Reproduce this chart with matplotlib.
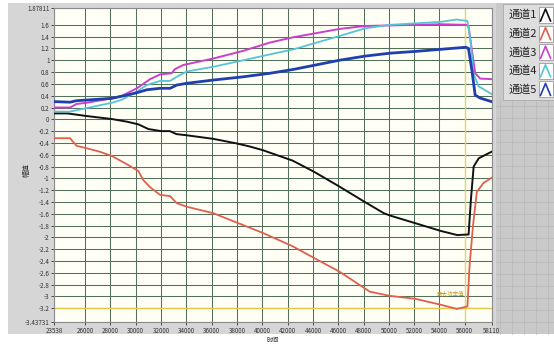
import matplotlib
matplotlib.use('Agg')
import matplotlib.pyplot as plt
from matplotlib.patches import Rectangle
from matplotlib.lines import Line2D

plt.rcParams['font.family'] = ['Noto Sans CJK SC', 'DejaVu Sans']

# ---- data ----
ch1_x = [23538, 24600, 26100, 28100, 29300, 30200, 31000, 32000, 32700, 33200, 34000,
         36100, 38000, 39000, 40000, 42400, 44100, 46100, 48100, 49600, 50100, 52100,
         54100, 55400, 56300, 56480, 56700, 57100, 58110]
ch1_y = [0.10, 0.10, 0.056, 0.005, -0.04, -0.085, -0.165, -0.20, -0.20, -0.25, -0.27,
         -0.33, -0.41, -0.46, -0.52, -0.70, -0.89, -1.14, -1.40, -1.59, -1.63, -1.76,
         -1.89, -1.96, -1.95, -1.37, -0.80, -0.66, -0.55]

ch2_x = [23538, 24800, 25330, 26120, 27170, 28100, 29290, 30200, 30600, 31130, 31920,
         32710, 33240, 34030, 36130, 38000, 40000, 42400, 44100, 46100, 48500, 50100,
         52100, 54100, 55370, 56210, 56370, 56640, 56950, 57470, 58110]
ch2_y = [-0.32, -0.32, -0.45, -0.49, -0.55, -0.62, -0.76, -0.875, -1.03, -1.15, -1.28,
         -1.30, -1.42, -1.48, -1.59, -1.75, -1.92, -2.15, -2.35, -2.58, -2.92, -2.99,
         -3.04, -3.14, -3.21, -3.17, -2.50, -1.82, -1.23, -1.08, -0.99]

ch3_x = [23538, 24800, 25330, 26120, 28100, 28890, 30080, 30870, 31130, 31920, 32840,
         33100, 33760, 36130, 38500, 40610, 42460, 46090, 48100, 50100, 52100, 54080,
         56080, 56290, 56560, 56820, 57210, 58110]
ch3_y = [0.20, 0.20, 0.26, 0.28, 0.355, 0.395, 0.525, 0.64, 0.68, 0.76, 0.78,
         0.85, 0.92, 1.03, 1.16, 1.30, 1.39, 1.53, 1.58, 1.59, 1.60, 1.61,
         1.60, 1.58, 1.17, 0.78, 0.69, 0.68]

ch4_x = [23538, 24800, 26120, 28100, 28890, 30080, 30870, 31920, 32710, 33240, 34030,
         36130, 38500, 40610, 42460, 46090, 48100, 50100, 52100, 54080, 55370, 56210,
         56480, 56680, 57080, 58110]
ch4_y = [0.13, 0.13, 0.19, 0.28, 0.33, 0.47, 0.58, 0.65, 0.65, 0.72, 0.81,
         0.89, 1.00, 1.10, 1.185, 1.41, 1.54, 1.60, 1.625, 1.65, 1.69, 1.665,
         1.29, 0.78, 0.56, 0.43]

ch5_x = [23538, 24800, 25330, 28100, 29290, 30080, 30870, 31920, 32710, 33240, 34030,
         36130, 38500, 40610, 42460, 46090, 48100, 50100, 52100, 54080, 56080, 56290,
         56560, 56820, 57210, 58110]
ch5_y = [0.30, 0.29, 0.315, 0.355, 0.41, 0.45, 0.50, 0.525, 0.525, 0.58, 0.61,
         0.665, 0.72, 0.78, 0.845, 1.00, 1.07, 1.12, 1.15, 1.185, 1.22, 1.20,
         0.83, 0.41, 0.36, 0.30]

names = ['通道1', '通道2', '通道3', '通道4', '通道5']
colors = ['#111111', '#e0604e', '#cc3fcc', '#56c4d8', '#1f3fae']
widths = [1.4, 1.3, 1.4, 1.3, 2.0]

x_ticks = [23538, 26000, 28000, 30000, 32000, 34000, 36000, 38000, 40000, 42000,
           44000, 46000, 48000, 50000, 52000, 54000, 56000, 58110]
y_ticks = [1.87811, 1.6, 1.4, 1.2, 1.0, 0.8, 0.6, 0.4, 0.2, 0.0, -0.2, -0.4, -0.6,
           -0.8, -1.0, -1.2, -1.4, -1.6, -1.8, -2.0, -2.2, -2.4, -2.6, -2.8, -3.0,
           -3.2, -3.43731]
y_labels = ['1.87811', '1.6', '1.4', '1.2', '1', '0.8', '0.6', '0.4', '0.2', '0',
            '-0.2', '-0.4', '-0.6', '-0.8', '-1', '-1.2', '-1.4', '-1.6', '-1.8', '-2',
            '-2.2', '-2.4', '-2.6', '-2.8', '-3', '-3.2', '-3.43731']

cursor_x = 56000
cursor_y = -3.2
cursor_name = '最大功率值'

W, H = 554, 344


def fx(px):
    return px / W


def fy(py):
    return 1 - py / H


fig = plt.figure(figsize=(W / 100, H / 100), dpi=100, facecolor='white')

# panel backgrounds (kept behind the axes)
fig.patches.append(Rectangle((fx(8), fy(334)), fx(W - 8), (334 - 3) / H,
                             transform=fig.transFigure, fc='#d6d6d6', ec='none', zorder=-3))
fig.patches.append(Rectangle((fx(496), fy(334)), fx(W - 496), (334 - 3) / H,
                             transform=fig.transFigure, fc='#c9c9c9', ec='none', zorder=-2))
for gx in range(500, W, 12):
    fig.add_artist(Line2D([fx(gx), fx(gx)], [fy(334), fy(100)], transform=fig.transFigure,
                          color='#b8b8b8', lw=0.5, zorder=-1))
for gy in range(106, 334, 12):
    fig.add_artist(Line2D([fx(496), fx(W)], [fy(gy), fy(gy)], transform=fig.transFigure,
                          color='#b8b8b8', lw=0.5, zorder=-1))
fig.patches.append(Rectangle((fx(503), fy(100)), fx(W - 503), 96 / H,
                             transform=fig.transFigure, fc='#dedede', ec='#a8a8a8', lw=0.6, zorder=1))

# main plot
ax = fig.add_axes([fx(54), fy(322.3), fx(491.5 - 54), (322.3 - 8.4) / H])
ax.set_zorder(2)
ax.set_facecolor('#fffff6')
ax.set_xlim(23538, 58110)
ax.set_ylim(-3.43731, 1.87811)
ax.set_xticks(x_ticks)
ax.set_xticklabels([str(t) for t in x_ticks])
ax.set_yticks(y_ticks)
ax.set_yticklabels(y_labels)
ax.tick_params(direction='out', length=2.5, width=0.6, labelsize=4.5, colors='#333333', pad=0.8)
ax.grid(True, color='#52705a', lw=0.75)
for s in ax.spines.values():
    s.set_color('#8a8a8a')
    s.set_linewidth(0.8)

ax.axvline(cursor_x, color='#e8d46a', lw=1.0, zorder=2)
ax.axhline(cursor_y, color='#e2c94a', lw=1.0, zorder=2)

series = [(ch1_x, ch1_y), (ch2_x, ch2_y), (ch3_x, ch3_y), (ch4_x, ch4_y), (ch5_x, ch5_y)]
for (xs, ys), c, w in zip(series, colors, widths):
    ax.plot(xs, ys, color=c, lw=w, zorder=3, solid_joinstyle='round')

ax.text(54900, -2.95, cursor_name, fontsize=4, color='#c8961e', ha='center', va='center', zorder=4)

fig.text(fx(27), fy(170), '幅值', rotation=90, fontsize=5, ha='center', va='center', color='#333333')
fig.text(fx(273), fy(339.5), '时间', fontsize=4.5, ha='center', va='center', color='#333333')

# legend
for i, (n, c) in enumerate(zip(names, colors)):
    cy = 15 + i * 18.6
    fig.text(fx(523), fy(cy), n, fontsize=8, ha='center', va='center', color='#222222', zorder=3)
    fig.patches.append(Rectangle((fx(538.5), fy(cy + 8)), fx(14), 16 / H,
                                 transform=fig.transFigure, fc='white', ec='#9a9a9a', lw=0.6, zorder=2))
    fig.add_artist(Line2D([fx(540.5), fx(545.5), fx(550.5)], [fy(cy + 6), fy(cy - 6), fy(cy + 6)],
                          transform=fig.transFigure, color=c, lw=1.2, zorder=3))

fig.savefig('out.png', dpi=100)
